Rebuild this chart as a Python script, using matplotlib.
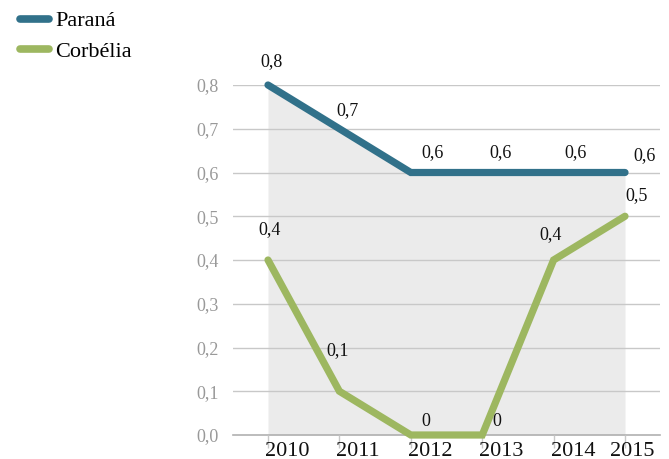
import numpy as np
import matplotlib
matplotlib.use("Agg")
import matplotlib.pyplot as plt
from matplotlib.lines import Line2D

anos = ["2010", "2011", "2012", "2013", "2014", "2015"]
parana = [0.8, 0.7, 0.6, 0.6, 0.6, 0.6]
corbelia = [0.4, 0.1, 0.0, 0.0, 0.4, 0.5]
rotulos_parana = ["0,8", "0,7", "0,6", "0,6", "0,6", "0,6"]
rotulos_corbelia = ["0,4", "0,1", "0", "0", "0,4", "0,5"]
yticks = [0.0, 0.1, 0.2, 0.3, 0.4, 0.5, 0.6, 0.7, 0.8]
yrotulos = ["0,0", "0,1", "0,2", "0,3", "0,4", "0,5", "0,6", "0,7", "0,8"]

cor_parana = "#31718a"
cor_corbelia = "#9db760"

plt.rcParams["font.family"] = ["Liberation Serif", "DejaVu Serif"]

fig = plt.figure(figsize=(6.69, 4.59), dpi=100)
ax = fig.add_axes([233 / 669, 1 - 435 / 459, (660 - 233) / 669, (435 - 85) / 459])

x = np.arange(len(anos))
ax.fill_between(x, parana, 0, color="#ebebeb", lw=0, zorder=0)
for v in yticks[1:]:
    ax.axhline(v, color="#c8c8c8", lw=1, zorder=1)
ax.axhline(0, color="#b0b0b0", lw=1.2, zorder=1, clip_on=False)

ax.plot(x, parana, color=cor_parana, lw=5.2, solid_capstyle="round",
        solid_joinstyle="miter", clip_on=False, zorder=3)
ax.plot(x, corbelia, color=cor_corbelia, lw=5.2, solid_capstyle="round",
        solid_joinstyle="miter", clip_on=False, zorder=3)

# deslocamentos dos rótulos em pixels (dx, dy)
desl_p = [(4, 23), (8, 18), (22, 20), (18, 20), (22, 20), (20, 17)]
desl_c = [(2, 30), (-2, 41), (15, 13), (15, 13), (-3, 25), (12, 21)]
for i in range(len(anos)):
    ax.annotate(rotulos_parana[i], (x[i], parana[i]), xytext=desl_p[i],
                textcoords="offset pixels", ha="center", va="center",
                fontsize=13, color="#111111", annotation_clip=False)
    ax.annotate(rotulos_corbelia[i], (x[i], corbelia[i]), xytext=desl_c[i],
                textcoords="offset pixels", ha="center", va="center",
                fontsize=13, color="#111111", annotation_clip=False)

ax.set_xlim(-0.49, 5.49)
ax.set_ylim(0, 0.8)
for s in ax.spines.values():
    s.set_visible(False)

ax.set_yticks(yticks)
ax.set_yticklabels(yrotulos, fontsize=13, color="#999999")
ax.tick_params(axis="y", length=0, pad=10)

ax.set_xticks(x)
ax.set_xticklabels([])
ax.tick_params(axis="x", direction="out", length=9, color="#c8c8c8", width=1)
for i, a in enumerate(anos):
    dx = -15 if i == len(anos) - 1 else -3
    ax.annotate(a, (x[i], 0), xytext=(dx, -16), textcoords="offset pixels",
                ha="left", va="center", fontsize=16, color="#111111",
                annotation_clip=False)

handles = [Line2D([], [], color=cor_parana, lw=5.5, solid_capstyle="round"),
           Line2D([], [], color=cor_corbelia, lw=5.5, solid_capstyle="round")]
fig.legend(handles, ["Paraná", "Corbélia"], loc="upper left",
           bbox_to_anchor=(0.0, 1.02), frameon=False, fontsize=16,
           handlelength=1.3, handletextpad=0.3, labelspacing=0.45,
           borderpad=0.4)

fig.savefig("out.png", dpi=100)
